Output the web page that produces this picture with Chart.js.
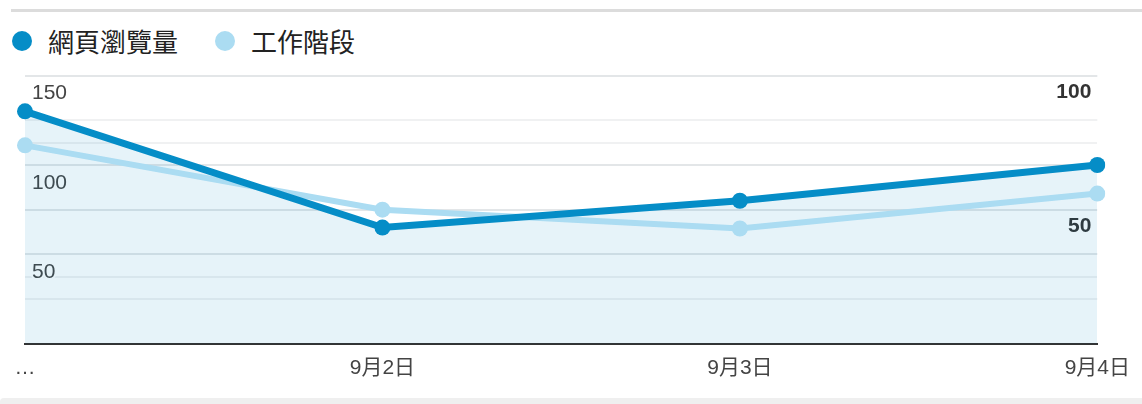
<!DOCTYPE html>
<html>
<head>
<meta charset="utf-8">
<script src="https://cdn.jsdelivr.net/npm/chart.js@4/dist/chart.umd.min.js"></script>
<style>
  html, body { margin: 0; padding: 0; background: #fff; }
  body { width: 1142px; height: 404px; position: relative; overflow: hidden; }
  .topline { position: absolute; left: 11px; right: 0; top: 9px; height: 3px; background: #dcdcdc; }
  .bottom { position: absolute; left: 0; right: 0; top: 398px; height: 6px; background: #efefef; border-top-left-radius: 4px; }
  #legend { position: absolute; left: 12px; top: 24px; display: flex; font-family: "Noto Sans CJK TC", sans-serif; font-size: 26px; color: #222; }
  #legend .item { display: flex; align-items: center; margin-right: 37px; }
  #legend .dot { width: 20px; height: 20px; border-radius: 50%; margin-right: 16px; }
  #legend .item span { line-height: 34px; }
  #chart { position: absolute; left: 0; top: 56px; }
</style>
</head>
<body>
<div class="topline"></div>
<div id="legend"></div>
<canvas id="chart" width="1142" height="343"></canvas>
<div class="bottom"></div>
<script>
const categories = ['…', '9月2日', '9月3日', '9月4日'];
const pageViews = [130, 65, 80, 100];   // 網頁瀏覽量 (left axis)
const sessions = [74, 50, 43, 56];      // 工作階段 (right axis)
const leftTickLabels = [50, 100, 150];
const rightTickLabels = [50, 100];

const darkBlue = '#058dc7';
const lightBlue = '#abdcf2';

const gridColor = labeled => ctx =>
  labeled.includes(ctx.tick && ctx.tick.value) ? '#e3e6e8' : '#f0f1f2';

const ctx = document.getElementById('chart').getContext('2d');
const chart = new Chart(ctx, {
  type: 'line',
  data: {
    labels: categories,
    datasets: [
      {
        label: '網頁瀏覽量',
        data: pageViews,
        yAxisID: 'yLeft',
        borderColor: darkBlue,
        backgroundColor: 'rgba(5,141,199,0.1)',
        pointBackgroundColor: darkBlue,
        fill: 'origin',
        borderWidth: 7,
        pointRadius: 8,
        pointBorderWidth: 0,
        tension: 0,
        order: 0
      },
      {
        label: '工作階段',
        data: sessions,
        yAxisID: 'yRight',
        borderColor: lightBlue,
        backgroundColor: lightBlue,
        pointBackgroundColor: lightBlue,
        fill: false,
        borderWidth: 6,
        pointRadius: 8,
        pointBorderWidth: 0,
        tension: 0,
        order: 1
      }
    ]
  },
  options: {
    responsive: false,
    animation: false,
    layout: { padding: { top: 18, bottom: 6, left: 0, right: 0 } },
    plugins: {
      legend: { display: false },
      tooltip: { enabled: false },
      filler: { drawTime: 'beforeDatasetsDraw' }
    },
    scales: {
      x: {
        grid: { display: false, drawTicks: false },
        border: { display: true, color: '#333', width: 2 },
        ticks: {
          color: '#444',
          padding: 12,
          maxRotation: 0,
          autoSkip: false,
          font: { family: '"Liberation Sans", "Noto Sans CJK TC", sans-serif', size: 21 }
        }
      },
      yLeft: {
        position: 'left',
        min: 0, max: 150,
        afterFit: s => { s.width = 25; },
        border: { display: false },
        grid: { drawTicks: false, lineWidth: 2, color: gridColor(leftTickLabels) },
        ticks: {
          stepSize: 25,
          mirror: true,
          padding: 7,
          labelOffset: 18,
          color: '#444',
          textStrokeColor: '#fff',
          textStrokeWidth: 4,
          font: { family: '"Liberation Sans", sans-serif', size: 21 },
          callback: v => leftTickLabels.includes(v) ? String(v) : ''
        }
      },
      yRight: {
        position: 'right',
        min: 0, max: 100,
        afterFit: s => { s.width = 44; },
        border: { display: false },
        grid: { drawTicks: false, lineWidth: 2, color: gridColor(rightTickLabels) },
        ticks: {
          stepSize: 25,
          mirror: true,
          padding: -6,
          labelOffset: 17,
          color: '#333',
          textStrokeColor: '#fff',
          textStrokeWidth: 4,
          font: { family: '"Liberation Sans", sans-serif', size: 21, weight: 'bold' },
          callback: v => rightTickLabels.includes(v) ? String(v) : ''
        }
      }
    }
  }
});

// html legend built from the datasets
const legendEl = document.getElementById('legend');
chart.data.datasets.forEach(ds => {
  const item = document.createElement('div');
  item.className = 'item';
  const dot = document.createElement('div');
  dot.className = 'dot';
  dot.style.background = ds.borderColor;
  const txt = document.createElement('span');
  txt.textContent = ds.label;
  item.appendChild(dot);
  item.appendChild(txt);
  legendEl.appendChild(item);
});
</script>
</body>
</html>
